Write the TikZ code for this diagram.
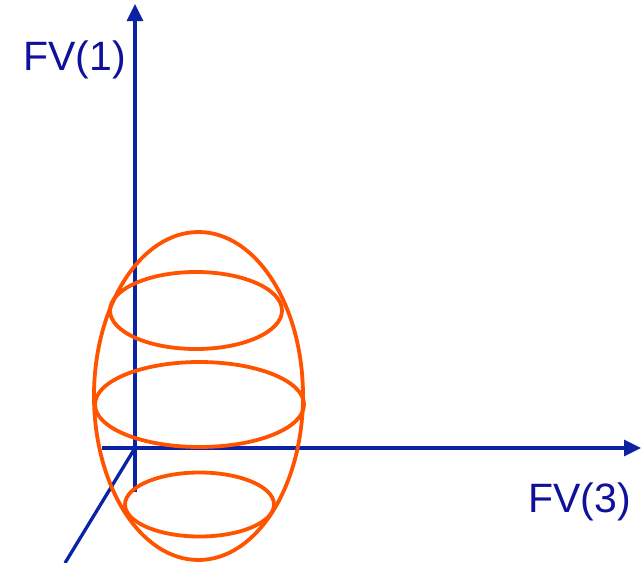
\documentclass[tikz,border=0pt]{standalone}
\usepackage{fontspec}
\setsansfont{Liberation Sans}
\usetikzlibrary{arrows.meta, positioning}
\definecolor{caxis}{HTML}{0A23A5}
\definecolor{ctext}{HTML}{10109A}
\definecolor{corange}{HTML}{FF5300}
\tikzset{
  every picture/.style={font=\sffamily},
  axis/.style={draw=caxis, line width=3.3pt},
  axarrow/.style={axis, -{Triangle[length=17pt, width=16pt]}},
  ring/.style={draw=corange, line width=3.8pt},
  lbl/.style={font=\sffamily\fontsize{41}{41}\selectfont, text=ctext, inner sep=0pt},
}
\begin{document}
\begin{tikzpicture}[x=1pt, y=-1pt]
  \useasboundingbox (0,0) rectangle (641,563);
  % axes
  \coordinate (o) at (135,448);
  \coordinate (ytop) at (135,4);
  \coordinate (ybot) at (135,492);
  \coordinate (xleft) at (102,448);
  \coordinate (xright) at (641,448);
  \coordinate (zend) at (65,563);
  \draw[axarrow] (ybot) -- (ytop);
  \draw[axarrow] (xleft) -- (xright);
  \draw[axis] (o) -- (zend);
  \node[lbl, anchor=base east] (fv1) at (126,70) {FV(1)};
  \node[lbl, anchor=base west] (fv3) at (528,512) {FV(3)};
  % cluster
  \draw[ring] (198.5,396) ellipse [x radius=104.5, y radius=164];
  \draw[ring] (196,310.5) ellipse [x radius=86, y radius=38.5];
  \draw[ring] (199.5,404.5) ellipse [x radius=104.5, y radius=42.5];
  \draw[ring] (199.5,504.5) ellipse [x radius=74.5, y radius=32];
\end{tikzpicture}
\end{document}
